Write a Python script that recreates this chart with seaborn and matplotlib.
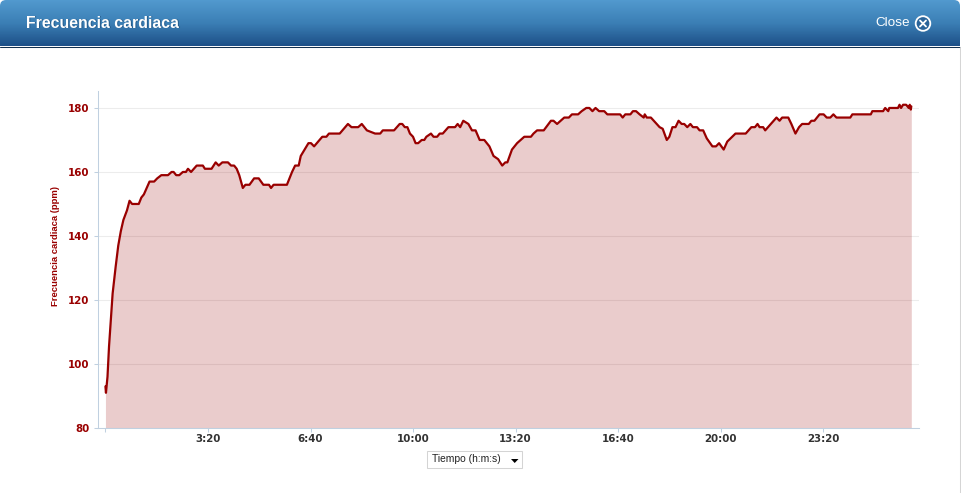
import numpy as np
import pandas as pd
import matplotlib
matplotlib.use("Agg")
import matplotlib.pyplot as plt
from matplotlib.patches import FancyBboxPatch, Circle, Rectangle, Polygon
import seaborn as sns

# heart rate trace
tiempo = [0, 1, 4, 7, 11, 14, 20, 25, 30, 35, 42, 47, 52, 65, 70, 75, 86, 95, 101, 109,
          122, 129, 133, 138, 144, 151, 157, 161, 167, 178, 190, 194, 207, 215, 221, 228, 239, 245, 251, 256,
          261, 268, 273, 281, 290, 299, 308, 319, 323, 328, 354, 364, 370, 377, 381, 396, 401, 407, 423, 431,
          436, 457, 473, 480, 493, 500, 510, 526, 536, 541, 563, 574, 579, 584, 589, 594, 600, 605, 610, 617,
          622, 626, 635, 640, 647, 652, 658, 669, 682, 687, 692, 698, 708, 715, 722, 730, 739, 749, 757, 766,
          774, 780, 784, 793, 803, 817, 830, 835, 842, 855, 869, 874, 881, 888, 895, 904, 910, 922, 929, 938,
          944, 950, 956, 963, 973, 979, 1004, 1009, 1014, 1024, 1029, 1035, 1042, 1050, 1052, 1056, 1064, 1081, 1087, 1095,
          1100, 1106, 1112, 1118, 1124, 1129, 1135, 1141, 1146, 1154, 1159, 1166, 1173, 1184, 1191, 1197, 1206, 1213, 1229, 1249,
          1260, 1267, 1272, 1276, 1283, 1287, 1309, 1315, 1320, 1332, 1338, 1346, 1353, 1359, 1372, 1377, 1383, 1393, 1401, 1407,
          1414, 1420, 1426, 1453, 1457, 1493, 1496, 1517, 1521, 1527, 1529, 1546, 1549, 1552, 1556, 1562, 1567, 1569, 1571, 1572]
frecuencia = [93, 91, 96, 105.5, 115, 122, 130.5, 137, 141.5, 145, 148, 151, 150, 150, 152, 153, 157, 157, 158, 159,
              159, 160, 160, 159, 159, 160, 160, 161, 160, 162, 162, 161, 161, 163, 162, 163, 163, 162, 162, 161,
              159, 155, 156, 156, 158, 158, 156, 156, 155, 156, 156, 160, 162, 162, 165, 169, 169, 168, 171, 171,
              172, 172, 175, 174, 174, 175, 173, 172, 172, 173, 173, 175, 175, 174, 174, 172, 171, 169, 169, 170,
              170, 171, 172, 171, 171, 172, 172, 174, 174, 175, 174, 176, 175, 173, 173, 170, 170, 168, 165, 164,
              162, 163, 163, 167, 169, 171, 171, 172, 173, 173, 176, 176, 175, 176, 177, 177, 178, 178, 179, 180,
              180, 179, 180, 179, 179, 178, 178, 177, 178, 178, 179, 179, 178, 177, 178, 177, 177, 174, 173.5, 170,
              171, 174, 174, 176, 175, 175, 174, 175, 174, 174, 173, 173, 170.5, 168, 168, 169, 167, 169.5, 172, 172,
              174, 174, 175, 174, 174, 173, 177, 176, 177, 177, 175, 172, 174, 175, 175, 176, 176, 178, 178, 177,
              177, 178, 177, 177, 178, 178, 179, 179, 180, 179, 180, 180, 181, 180, 181, 181, 180, 181, 179.5, 180.5]
x_ticks = [0, 200, 400, 600, 800, 1000, 1200, 1400]
x_labels = ["", "3:20", "6:40", "10:00", "13:20", "16:40", "20:00", "23:20"]
y_ticks = [80, 100, 120, 140, 160, 180]

df = pd.DataFrame({"tiempo": tiempo, "frecuencia": frecuencia})

W, H = 962, 493
sns.set_theme(style="white")
plt.rcParams["font.family"] = ["DejaVu Sans"]

rojo = "#990000"
eje = "#c0d0e0"

fig = plt.figure(figsize=(W / 100, H / 100), dpi=100, facecolor="white")
ax = fig.add_axes([97.5 / W, 1 - 428 / H, (919 - 97.5) / W, (428 - 91) / H])

ax.yaxis.grid(True, color="#ececec", linewidth=0.75)
ax.set_axisbelow(True)
ax.fill_between(df["tiempo"], df["frecuencia"], 80, color=rojo, alpha=0.2, linewidth=0, zorder=2)
sns.lineplot(data=df, x="tiempo", y="frecuencia", color=rojo, linewidth=1.6, ax=ax, zorder=3)

ax.set_xlim(-15.5, 1587)
ax.set_ylim(80, 185.3)
ax.set_xticks(x_ticks)
ax.set_xticklabels(x_labels, fontsize=7.4, fontweight="bold", color="#333333")
ax.set_yticks(y_ticks)
ax.set_yticklabels(y_ticks, fontsize=7.4, fontweight="bold", color=rojo)
ax.tick_params(axis="x", length=3, width=0.75, color=eje, pad=1.2, bottom=True)
ax.tick_params(axis="y", length=3, width=0.75, color=eje, pad=3, left=True)
ax.set_xlabel("")
ax.set_ylabel("Frecuencia cardiaca (ppm)", fontsize=6.8, fontweight="bold", color=rojo,
              family="Liberation Sans")
ax.yaxis.set_label_coords((60 - 97.5) / (919 - 97.5), 0.54)
sns.despine(ax=ax)
for lado in ["left", "bottom"]:
    ax.spines[lado].set_color(eje)
    ax.spines[lado].set_linewidth(0.75)

# window chrome, drawn in pixel coords on top of the figure
over = fig.add_axes([0, 0, 1, 1], zorder=5)
over.set_xlim(0, W)
over.set_ylim(H, 0)
over.axis("off")
over.patch.set_alpha(0)

grad = np.linspace(0, 1, 46).reshape(-1, 1)
cmap = matplotlib.colors.LinearSegmentedColormap.from_list("cab", ["#5199ce", "#3b7fb5", "#1d5088"])
img = over.imshow(grad, extent=(0, 960, 46, 0), cmap=cmap, aspect="auto", zorder=1)
clip = FancyBboxPatch((0, 0), 960, 60, boxstyle="round,pad=0,rounding_size=6", transform=over.transData)
img.set_clip_path(clip)
over.set_xlim(0, W)
over.set_ylim(H, 0)
over.plot([0, 960], [46.5, 46.5], color="#12304f", linewidth=0.75, zorder=2)
over.plot([960.5, 960.5], [47, H], color="#d5d5d5", linewidth=0.75, zorder=2)

over.text(26, 23, "Frecuencia cardiaca", color="#123a63", fontsize=11.45, fontweight="bold",
          family="Liberation Sans", va="center", ha="left", alpha=0.5, zorder=3,
          transform=over.transData + matplotlib.transforms.Affine2D().translate(0.7, -0.7))
over.text(26, 23, "Frecuencia cardiaca", color="white", fontsize=11.45, fontweight="bold",
          family="Liberation Sans", va="center", ha="left", zorder=4)
over.text(875, 22.5, "Close", color="white", fontsize=9.7, family="Liberation Sans", va="center", ha="left", zorder=4)
over.add_patch(Circle((923, 23.5), 7.3, facecolor="#2a6499", edgecolor="white", linewidth=1.3, zorder=4))
over.plot([920, 926], [20.5, 26.5], color="white", linewidth=1.3, zorder=5)
over.plot([926, 920], [20.5, 26.5], color="white", linewidth=1.3, zorder=5)

# axis selector under the chart
over.add_patch(Rectangle((427.5, 450.5), 95, 17.5, facecolor="white", edgecolor="#d4d4d4", linewidth=0.75, zorder=4))
over.text(432, 459, "Tiempo (h:m:s)", color="#222222", fontsize=7.4, family="Liberation Sans",
          va="center", ha="left", zorder=5)
over.add_patch(Polygon([(511, 459), (518.5, 459), (514.7, 463)], facecolor="black", edgecolor="none", zorder=5))

fig.savefig("out.png", dpi=100)
